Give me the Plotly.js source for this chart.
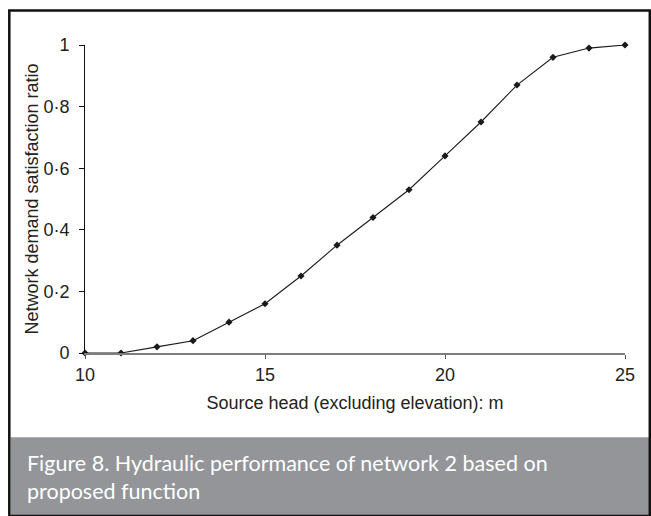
<!DOCTYPE html>
<html>
<head>
<meta charset="utf-8">
<script src="https://cdn.plot.ly/plotly-3.0.1.min.js"></script>
<style>
html,body{margin:0;padding:0;background:#fff;}
#chart{width:651px;height:516px;}
</style>
</head>
<body>
<div id="chart"></div>
<script>
// Data
const sourceHead = [10, 11, 12, 13, 14, 15, 16, 17, 18, 19, 20, 21, 22, 23, 24, 25];
const satisfactionRatio = [0, 0, 0.02, 0.04, 0.10, 0.16, 0.25, 0.35, 0.44, 0.53, 0.64, 0.75, 0.87, 0.96, 0.99, 1.0];
const xTickVals = [10, 15, 20, 25];
const xTickText = ["10", "15", "20", "25"];
const yTickVals = [0, 0.2, 0.4, 0.6, 0.8, 1];
const yTickText = ["0", "0·2", "0·4", "0·6", "0·8", "1"];
const xTitle = "Source head (excluding elevation): m";
const yTitle = "Network demand satisfaction ratio";
const caption = "Figure 8. Hydraulic performance of network 2 based on<br>proposed function";

// pixel geometry helpers (plot area: x 85..625, y 44.7..352.7)
const W = 651, H = 516;
const L = 85, R = 625, T = 44.7, B = 352.7;
const px = v => (v - L) / (R - L);
const py = v => (B - v) / (B - T);

const trace = {
  x: sourceHead,
  y: satisfactionRatio,
  type: 'scatter',
  mode: 'lines+markers',
  line: {color: '#1a1a1a', width: 1.1},
  marker: {symbol: 'diamond', size: 5.5, color: '#1a1a1a'},
  cliponaxis: false,
  hoverinfo: 'skip'
};

const font = "'Liberation Sans', Arial, sans-serif";

const layout = {
  width: W, height: H,
  margin: {l: L, r: W - R, t: T, b: H - B, pad: 0},
  paper_bgcolor: '#fff',
  plot_bgcolor: 'rgba(0,0,0,0)',
  showlegend: false,
  font: {family: font, size: 18, color: '#222'},
  xaxis: {
    range: [10, 25],
    tickvals: xTickVals, ticktext: xTickText,
    showgrid: false, zeroline: false,
    showline: true, linecolor: '#7d7d7d', linewidth: 2,
    ticks: 'outside', ticklen: 4, tickwidth: 1, tickcolor: '#555',
    tickfont: {family: font, size: 18, color: '#222'},
    title: {text: xTitle, font: {family: font, size: 18, color: '#222'}, standoff: 13},
    fixedrange: true
  },
  yaxis: {
    range: [0, 1],
    tickvals: yTickVals, ticktext: yTickText,
    showgrid: false, zeroline: false,
    showline: true, linecolor: '#111', linewidth: 1,
    ticks: 'outside', ticklen: 5, tickwidth: 1, tickcolor: '#111',
    ticklabelstandoff: 6,
    tickfont: {family: font, size: 18, color: '#222'},
    title: {text: yTitle, font: {family: font, size: 18, color: '#222'}, standoff: 0},
    fixedrange: true
  },
  shapes: [
    {type: 'rect', xref: 'paper', yref: 'paper',
     x0: px(10.5), x1: px(649), y0: py(437), y1: py(515),
     fillcolor: '#939598', line: {width: 0}, layer: 'below'},
    {type: 'rect', xref: 'paper', yref: 'paper',
     x0: px(9.3), x1: px(649.8), y0: py(10.2), y1: py(515.6),
     fillcolor: 'rgba(0,0,0,0)', line: {color: '#111', width: 2.5}, layer: 'above'}
  ],
  annotations: [
    {xref: 'paper', yref: 'paper', x: px(25), y: py(448),
     xanchor: 'left', yanchor: 'top', align: 'left', showarrow: false,
     text: caption,
     font: {family: "Lato, 'Open Sans', sans-serif", size: 21.5, color: '#fff'}}
  ]
};

Plotly.newPlot('chart', [trace], layout, {displayModeBar: false, staticPlot: true});
</script>
</body>
</html>
